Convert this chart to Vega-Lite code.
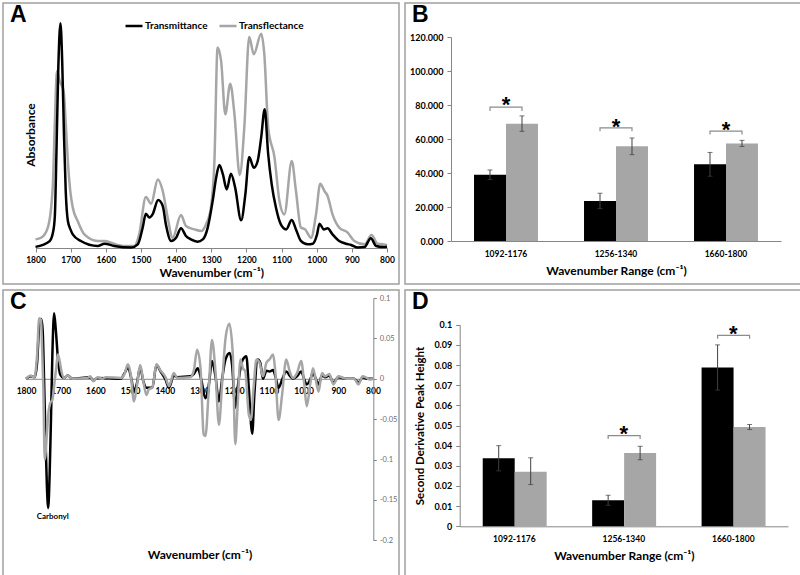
{
  "$schema": "https://vega.github.io/schema/vega-lite/v6.json",
  "padding": {"left": 2, "top": 2, "right": 0, "bottom": 0},
  "spacing": 4,
  "columns": 2,
  "config": {
    "view": {"stroke": "#a0a0a0", "strokeWidth": 1.5},
    "font": "Lato",
    "axis": {"domainColor": "#868686", "tickColor": "#868686", "labelColor": "#000000", "labelFont": "Lato", "labelFontWeight": "bold", "labelFontSize": 8.5, "titleFont": "Lato", "titleFontSize": 12, "titleFontWeight": "bold", "titleColor": "#000000", "grid": false, "labelOverlap": false},
    "legend": {"labelFont": "Lato", "labelFontWeight": "bold", "labelColor": "#000000"},
    "title": {"anchor": "start", "frame": "group", "font": "Liberation Sans", "fontSize": 23, "fontWeight": "bold", "baseline": "alphabetic", "offset": -24, "dx": 7, "color": "#000000"},
    "line": {"strokeWidth": 2.5, "interpolate": "monotone"}
  },
  "datasets": {
    "A": [
      {"wn": 1800, "v": 0.005, "s": "Transmittance"}, {"wn": 1760, "v": 0.03, "s": "Transmittance"}, {"wn": 1750, "v": 0.07, "s": "Transmittance"}, {"wn": 1745, "v": 0.14, "s": "Transmittance"}, {"wn": 1740, "v": 0.45, "s": "Transmittance"}, {"wn": 1735, "v": 0.8, "s": "Transmittance"}, {"wn": 1729, "v": 0.99, "s": "Transmittance"}, {"wn": 1724, "v": 0.82, "s": "Transmittance"}, {"wn": 1719, "v": 0.5, "s": "Transmittance"}, {"wn": 1714, "v": 0.25, "s": "Transmittance"}, {"wn": 1708, "v": 0.12, "s": "Transmittance"}, {"wn": 1700, "v": 0.08, "s": "Transmittance"}, {"wn": 1694, "v": 0.06, "s": "Transmittance"}, {"wn": 1671, "v": 0.031, "s": "Transmittance"}, {"wn": 1623, "v": 0.009, "s": "Transmittance"}, {"wn": 1604, "v": 0.019, "s": "Transmittance"}, {"wn": 1576, "v": 0.009, "s": "Transmittance"}, {"wn": 1528, "v": 0.002, "s": "Transmittance"}, {"wn": 1509, "v": 0.016, "s": "Transmittance"}, {"wn": 1495, "v": 0.09, "s": "Transmittance"}, {"wn": 1486, "v": 0.151, "s": "Transmittance"}, {"wn": 1476, "v": 0.134, "s": "Transmittance"}, {"wn": 1467, "v": 0.148, "s": "Transmittance"}, {"wn": 1451, "v": 0.211, "s": "Transmittance"}, {"wn": 1438, "v": 0.185, "s": "Transmittance"}, {"wn": 1429, "v": 0.104, "s": "Transmittance"}, {"wn": 1414, "v": 0.031, "s": "Transmittance"}, {"wn": 1400, "v": 0.045, "s": "Transmittance"}, {"wn": 1386, "v": 0.087, "s": "Transmittance"}, {"wn": 1372, "v": 0.053, "s": "Transmittance"}, {"wn": 1358, "v": 0.038, "s": "Transmittance"}, {"wn": 1339, "v": 0.028, "s": "Transmittance"}, {"wn": 1324, "v": 0.038, "s": "Transmittance"}, {"wn": 1310, "v": 0.09, "s": "Transmittance"}, {"wn": 1296, "v": 0.207, "s": "Transmittance"}, {"wn": 1286, "v": 0.31, "s": "Transmittance"}, {"wn": 1277, "v": 0.366, "s": "Transmittance"}, {"wn": 1267, "v": 0.325, "s": "Transmittance"}, {"wn": 1256, "v": 0.258, "s": "Transmittance"}, {"wn": 1244, "v": 0.327, "s": "Transmittance"}, {"wn": 1232, "v": 0.266, "s": "Transmittance"}, {"wn": 1215, "v": 0.122, "s": "Transmittance"}, {"wn": 1203, "v": 0.236, "s": "Transmittance"}, {"wn": 1192, "v": 0.401, "s": "Transmittance"}, {"wn": 1179, "v": 0.354, "s": "Transmittance"}, {"wn": 1168, "v": 0.383, "s": "Transmittance"}, {"wn": 1158, "v": 0.486, "s": "Transmittance"}, {"wn": 1148, "v": 0.611, "s": "Transmittance"}, {"wn": 1138, "v": 0.413, "s": "Transmittance"}, {"wn": 1128, "v": 0.28, "s": "Transmittance"}, {"wn": 1116, "v": 0.178, "s": "Transmittance"}, {"wn": 1102, "v": 0.104, "s": "Transmittance"}, {"wn": 1087, "v": 0.082, "s": "Transmittance"}, {"wn": 1071, "v": 0.123, "s": "Transmittance"}, {"wn": 1059, "v": 0.082, "s": "Transmittance"}, {"wn": 1045, "v": 0.031, "s": "Transmittance"}, {"wn": 1026, "v": 0.016, "s": "Transmittance"}, {"wn": 1011, "v": 0.019, "s": "Transmittance"}, {"wn": 999, "v": 0.06, "s": "Transmittance"}, {"wn": 992, "v": 0.107, "s": "Transmittance"}, {"wn": 980, "v": 0.082, "s": "Transmittance"}, {"wn": 969, "v": 0.087, "s": "Transmittance"}, {"wn": 955, "v": 0.06, "s": "Transmittance"}, {"wn": 936, "v": 0.031, "s": "Transmittance"}, {"wn": 917, "v": 0.019, "s": "Transmittance"}, {"wn": 902, "v": 0.013, "s": "Transmittance"}, {"wn": 883, "v": 0.002, "s": "Transmittance"}, {"wn": 864, "v": 0.004, "s": "Transmittance"}, {"wn": 846, "v": 0.043, "s": "Transmittance"}, {"wn": 831, "v": 0.009, "s": "Transmittance"}, {"wn": 808, "v": 0.004, "s": "Transmittance"}, {"wn": 800, "v": 0.005, "s": "Transmittance"},
      {"wn": 1800, "v": 0.038, "s": "Transflectance"}, {"wn": 1784, "v": 0.045, "s": "Transflectance"}, {"wn": 1765, "v": 0.09, "s": "Transflectance"}, {"wn": 1751, "v": 0.266, "s": "Transflectance"}, {"wn": 1745, "v": 0.55, "s": "Transflectance"}, {"wn": 1739, "v": 0.78, "s": "Transflectance"}, {"wn": 1732, "v": 0.74, "s": "Transflectance"}, {"wn": 1727, "v": 0.721, "s": "Transflectance"}, {"wn": 1720, "v": 0.692, "s": "Transflectance"}, {"wn": 1714, "v": 0.55, "s": "Transflectance"}, {"wn": 1708, "v": 0.383, "s": "Transflectance"}, {"wn": 1701, "v": 0.25, "s": "Transflectance"}, {"wn": 1694, "v": 0.178, "s": "Transflectance"}, {"wn": 1680, "v": 0.119, "s": "Transflectance"}, {"wn": 1661, "v": 0.06, "s": "Transflectance"}, {"wn": 1623, "v": 0.031, "s": "Transflectance"}, {"wn": 1602, "v": 0.031, "s": "Transflectance"}, {"wn": 1585, "v": 0.023, "s": "Transflectance"}, {"wn": 1547, "v": 0.009, "s": "Transflectance"}, {"wn": 1519, "v": 0.009, "s": "Transflectance"}, {"wn": 1505, "v": 0.06, "s": "Transflectance"}, {"wn": 1486, "v": 0.225, "s": "Transflectance"}, {"wn": 1471, "v": 0.195, "s": "Transflectance"}, {"wn": 1452, "v": 0.302, "s": "Transflectance"}, {"wn": 1438, "v": 0.251, "s": "Transflectance"}, {"wn": 1424, "v": 0.134, "s": "Transflectance"}, {"wn": 1410, "v": 0.045, "s": "Transflectance"}, {"wn": 1386, "v": 0.145, "s": "Transflectance"}, {"wn": 1372, "v": 0.097, "s": "Transflectance"}, {"wn": 1348, "v": 0.082, "s": "Transflectance"}, {"wn": 1329, "v": 0.075, "s": "Transflectance"}, {"wn": 1315, "v": 0.104, "s": "Transflectance"}, {"wn": 1301, "v": 0.178, "s": "Transflectance"}, {"wn": 1291, "v": 0.383, "s": "Transflectance"}, {"wn": 1282, "v": 0.883, "s": "Transflectance"}, {"wn": 1272, "v": 0.824, "s": "Transflectance"}, {"wn": 1260, "v": 0.589, "s": "Transflectance"}, {"wn": 1246, "v": 0.724, "s": "Transflectance"}, {"wn": 1234, "v": 0.589, "s": "Transflectance"}, {"wn": 1219, "v": 0.322, "s": "Transflectance"}, {"wn": 1206, "v": 0.53, "s": "Transflectance"}, {"wn": 1192, "v": 0.93, "s": "Transflectance"}, {"wn": 1179, "v": 0.853, "s": "Transflectance"}, {"wn": 1158, "v": 0.944, "s": "Transflectance"}, {"wn": 1149, "v": 0.853, "s": "Transflectance"}, {"wn": 1138, "v": 0.53, "s": "Transflectance"}, {"wn": 1120, "v": 0.398, "s": "Transflectance"}, {"wn": 1106, "v": 0.207, "s": "Transflectance"}, {"wn": 1092, "v": 0.148, "s": "Transflectance"}, {"wn": 1071, "v": 0.383, "s": "Transflectance"}, {"wn": 1059, "v": 0.251, "s": "Transflectance"}, {"wn": 1045, "v": 0.09, "s": "Transflectance"}, {"wn": 1033, "v": 0.082, "s": "Transflectance"}, {"wn": 1016, "v": 0.045, "s": "Transflectance"}, {"wn": 1002, "v": 0.148, "s": "Transflectance"}, {"wn": 990, "v": 0.283, "s": "Transflectance"}, {"wn": 978, "v": 0.251, "s": "Transflectance"}, {"wn": 969, "v": 0.229, "s": "Transflectance"}, {"wn": 955, "v": 0.148, "s": "Transflectance"}, {"wn": 936, "v": 0.09, "s": "Transflectance"}, {"wn": 912, "v": 0.068, "s": "Transflectance"}, {"wn": 893, "v": 0.031, "s": "Transflectance"}, {"wn": 864, "v": 0.016, "s": "Transflectance"}, {"wn": 844, "v": 0.057, "s": "Transflectance"}, {"wn": 827, "v": 0.019, "s": "Transflectance"}, {"wn": 808, "v": 0.016, "s": "Transflectance"}, {"wn": 800, "v": 0.012, "s": "Transflectance"}
    ],
    "C": [
      {"wn": 1800, "v": 0, "s": "Transmittance"}, {"wn": 1786, "v": 0.003, "s": "Transmittance"}, {"wn": 1775, "v": 0.002, "s": "Transmittance"}, {"wn": 1768, "v": 0.02, "s": "Transmittance"}, {"wn": 1762, "v": 0.065, "s": "Transmittance"}, {"wn": 1756, "v": 0.074, "s": "Transmittance"}, {"wn": 1752, "v": 0.06, "s": "Transmittance"}, {"wn": 1748, "v": 0.0, "s": "Transmittance"}, {"wn": 1744, "v": -0.07, "s": "Transmittance"}, {"wn": 1740, "v": -0.13, "s": "Transmittance"}, {"wn": 1736, "v": -0.16, "s": "Transmittance"}, {"wn": 1732, "v": -0.12, "s": "Transmittance"}, {"wn": 1728, "v": -0.05, "s": "Transmittance"}, {"wn": 1724, "v": 0.03, "s": "Transmittance"}, {"wn": 1719, "v": 0.081, "s": "Transmittance"}, {"wn": 1714, "v": 0.06, "s": "Transmittance"}, {"wn": 1708, "v": 0.025, "s": "Transmittance"}, {"wn": 1701, "v": 0.005, "s": "Transmittance"}, {"wn": 1690, "v": 0.001, "s": "Transmittance"}, {"wn": 1680, "v": 0.004, "s": "Transmittance"}, {"wn": 1666, "v": 0, "s": "Transmittance"}, {"wn": 1615, "v": 0.002, "s": "Transmittance"}, {"wn": 1606, "v": -0.002, "s": "Transmittance"}, {"wn": 1594, "v": 0.001, "s": "Transmittance"}, {"wn": 1527, "v": 0, "s": "Transmittance"}, {"wn": 1516, "v": 0.007, "s": "Transmittance"}, {"wn": 1506, "v": 0.014, "s": "Transmittance"}, {"wn": 1496, "v": -0.001, "s": "Transmittance"}, {"wn": 1489, "v": -0.016, "s": "Transmittance"}, {"wn": 1481, "v": -0.007, "s": "Transmittance"}, {"wn": 1471, "v": 0.014, "s": "Transmittance"}, {"wn": 1462, "v": -0.003, "s": "Transmittance"}, {"wn": 1453, "v": -0.011, "s": "Transmittance"}, {"wn": 1444, "v": -0.011, "s": "Transmittance"}, {"wn": 1436, "v": -0.011, "s": "Transmittance"}, {"wn": 1424, "v": 0.017, "s": "Transmittance"}, {"wn": 1412, "v": 0.009, "s": "Transmittance"}, {"wn": 1398, "v": -0.001, "s": "Transmittance"}, {"wn": 1388, "v": -0.011, "s": "Transmittance"}, {"wn": 1374, "v": 0.004, "s": "Transmittance"}, {"wn": 1364, "v": 0.002, "s": "Transmittance"}, {"wn": 1326, "v": 0.003, "s": "Transmittance"}, {"wn": 1316, "v": 0.006, "s": "Transmittance"}, {"wn": 1305, "v": 0.013, "s": "Transmittance"}, {"wn": 1295, "v": -0.001, "s": "Transmittance"}, {"wn": 1283, "v": -0.024, "s": "Transmittance"}, {"wn": 1273, "v": -0.007, "s": "Transmittance"}, {"wn": 1264, "v": 0.022, "s": "Transmittance"}, {"wn": 1254, "v": 0.003, "s": "Transmittance"}, {"wn": 1244, "v": -0.028, "s": "Transmittance"}, {"wn": 1235, "v": -0.001, "s": "Transmittance"}, {"wn": 1225, "v": 0.024, "s": "Transmittance"}, {"wn": 1213, "v": 0.032, "s": "Transmittance"}, {"wn": 1206, "v": 0.017, "s": "Transmittance"}, {"wn": 1197, "v": -0.036, "s": "Transmittance"}, {"wn": 1190, "v": -0.011, "s": "Transmittance"}, {"wn": 1182, "v": 0.013, "s": "Transmittance"}, {"wn": 1175, "v": 0.024, "s": "Transmittance"}, {"wn": 1165, "v": 0.028, "s": "Transmittance"}, {"wn": 1158, "v": -0.011, "s": "Transmittance"}, {"wn": 1148, "v": -0.068, "s": "Transmittance"}, {"wn": 1142, "v": -0.02, "s": "Transmittance"}, {"wn": 1132, "v": 0.024, "s": "Transmittance"}, {"wn": 1125, "v": 0.02, "s": "Transmittance"}, {"wn": 1117, "v": 0, "s": "Transmittance"}, {"wn": 1107, "v": 0.01, "s": "Transmittance"}, {"wn": 1098, "v": 0.009, "s": "Transmittance"}, {"wn": 1088, "v": 0.011, "s": "Transmittance"}, {"wn": 1082, "v": 0.004, "s": "Transmittance"}, {"wn": 1072, "v": -0.011, "s": "Transmittance"}, {"wn": 1062, "v": -0.001, "s": "Transmittance"}, {"wn": 1050, "v": 0.009, "s": "Transmittance"}, {"wn": 1040, "v": 0.004, "s": "Transmittance"}, {"wn": 1031, "v": 0, "s": "Transmittance"}, {"wn": 1019, "v": 0.003, "s": "Transmittance"}, {"wn": 1007, "v": 0.009, "s": "Transmittance"}, {"wn": 998, "v": -0.001, "s": "Transmittance"}, {"wn": 991, "v": -0.007, "s": "Transmittance"}, {"wn": 981, "v": -0.001, "s": "Transmittance"}, {"wn": 973, "v": 0.007, "s": "Transmittance"}, {"wn": 965, "v": 0, "s": "Transmittance"}, {"wn": 957, "v": -0.007, "s": "Transmittance"}, {"wn": 947, "v": 0.004, "s": "Transmittance"}, {"wn": 938, "v": 0.002, "s": "Transmittance"}, {"wn": 926, "v": 0.004, "s": "Transmittance"}, {"wn": 914, "v": -0.005, "s": "Transmittance"}, {"wn": 900, "v": 0.002, "s": "Transmittance"}, {"wn": 876, "v": 0, "s": "Transmittance"}, {"wn": 854, "v": 0, "s": "Transmittance"}, {"wn": 842, "v": -0.005, "s": "Transmittance"}, {"wn": 830, "v": 0.002, "s": "Transmittance"}, {"wn": 818, "v": 0, "s": "Transmittance"}, {"wn": 800, "v": 0, "s": "Transmittance"},
      {"wn": 1800, "v": 0, "s": "Transflectance"}, {"wn": 1786, "v": 0.004, "s": "Transflectance"}, {"wn": 1776, "v": 0.001, "s": "Transflectance"}, {"wn": 1768, "v": 0.03, "s": "Transflectance"}, {"wn": 1762, "v": 0.075, "s": "Transflectance"}, {"wn": 1757, "v": 0.073, "s": "Transflectance"}, {"wn": 1753, "v": 0.03, "s": "Transflectance"}, {"wn": 1750, "v": -0.012, "s": "Transflectance"}, {"wn": 1746, "v": -0.1, "s": "Transflectance"}, {"wn": 1740, "v": -0.07, "s": "Transflectance"}, {"wn": 1736, "v": -0.045, "s": "Transflectance"}, {"wn": 1730, "v": -0.03, "s": "Transflectance"}, {"wn": 1724, "v": -0.026, "s": "Transflectance"}, {"wn": 1718, "v": -0.005, "s": "Transflectance"}, {"wn": 1713, "v": 0.013, "s": "Transflectance"}, {"wn": 1708, "v": 0.03, "s": "Transflectance"}, {"wn": 1703, "v": 0.022, "s": "Transflectance"}, {"wn": 1698, "v": 0.01, "s": "Transflectance"}, {"wn": 1690, "v": 0.001, "s": "Transflectance"}, {"wn": 1680, "v": 0.004, "s": "Transflectance"}, {"wn": 1666, "v": 0, "s": "Transflectance"}, {"wn": 1623, "v": 0.001, "s": "Transflectance"}, {"wn": 1615, "v": 0.003, "s": "Transflectance"}, {"wn": 1606, "v": -0.003, "s": "Transflectance"}, {"wn": 1594, "v": 0.002, "s": "Transflectance"}, {"wn": 1580, "v": 0, "s": "Transflectance"}, {"wn": 1570, "v": 0.002, "s": "Transflectance"}, {"wn": 1527, "v": 0.001, "s": "Transflectance"}, {"wn": 1517, "v": 0.005, "s": "Transflectance"}, {"wn": 1506, "v": 0.018, "s": "Transflectance"}, {"wn": 1498, "v": 0.005, "s": "Transflectance"}, {"wn": 1489, "v": -0.028, "s": "Transflectance"}, {"wn": 1481, "v": -0.011, "s": "Transflectance"}, {"wn": 1471, "v": 0.017, "s": "Transflectance"}, {"wn": 1462, "v": -0.003, "s": "Transflectance"}, {"wn": 1453, "v": -0.02, "s": "Transflectance"}, {"wn": 1446, "v": -0.013, "s": "Transflectance"}, {"wn": 1436, "v": -0.011, "s": "Transflectance"}, {"wn": 1424, "v": 0.018, "s": "Transflectance"}, {"wn": 1412, "v": 0.01, "s": "Transflectance"}, {"wn": 1398, "v": 0.002, "s": "Transflectance"}, {"wn": 1388, "v": -0.009, "s": "Transflectance"}, {"wn": 1374, "v": 0.007, "s": "Transflectance"}, {"wn": 1364, "v": 0.001, "s": "Transflectance"}, {"wn": 1326, "v": 0.002, "s": "Transflectance"}, {"wn": 1316, "v": 0.011, "s": "Transflectance"}, {"wn": 1307, "v": 0.036, "s": "Transflectance"}, {"wn": 1297, "v": 0.013, "s": "Transflectance"}, {"wn": 1288, "v": -0.069, "s": "Transflectance"}, {"wn": 1283, "v": -0.071, "s": "Transflectance"}, {"wn": 1273, "v": -0.011, "s": "Transflectance"}, {"wn": 1264, "v": 0.048, "s": "Transflectance"}, {"wn": 1254, "v": 0.009, "s": "Transflectance"}, {"wn": 1244, "v": -0.057, "s": "Transflectance"}, {"wn": 1235, "v": -0.007, "s": "Transflectance"}, {"wn": 1225, "v": 0.05, "s": "Transflectance"}, {"wn": 1214, "v": 0.068, "s": "Transflectance"}, {"wn": 1204, "v": 0.03, "s": "Transflectance"}, {"wn": 1197, "v": -0.081, "s": "Transflectance"}, {"wn": 1190, "v": -0.032, "s": "Transflectance"}, {"wn": 1182, "v": 0.024, "s": "Transflectance"}, {"wn": 1175, "v": 0.013, "s": "Transflectance"}, {"wn": 1168, "v": 0.009, "s": "Transflectance"}, {"wn": 1158, "v": -0.044, "s": "Transflectance"}, {"wn": 1152, "v": -0.051, "s": "Transflectance"}, {"wn": 1144, "v": -0.011, "s": "Transflectance"}, {"wn": 1136, "v": 0.024, "s": "Transflectance"}, {"wn": 1127, "v": 0.02, "s": "Transflectance"}, {"wn": 1117, "v": 0.003, "s": "Transflectance"}, {"wn": 1107, "v": 0.02, "s": "Transflectance"}, {"wn": 1098, "v": 0.024, "s": "Transflectance"}, {"wn": 1088, "v": 0.03, "s": "Transflectance"}, {"wn": 1082, "v": 0.011, "s": "Transflectance"}, {"wn": 1072, "v": -0.051, "s": "Transflectance"}, {"wn": 1062, "v": -0.02, "s": "Transflectance"}, {"wn": 1050, "v": 0.024, "s": "Transflectance"}, {"wn": 1040, "v": 0.009, "s": "Transflectance"}, {"wn": 1031, "v": 0.001, "s": "Transflectance"}, {"wn": 1019, "v": 0.007, "s": "Transflectance"}, {"wn": 1007, "v": 0.022, "s": "Transflectance"}, {"wn": 998, "v": -0.007, "s": "Transflectance"}, {"wn": 991, "v": -0.034, "s": "Transflectance"}, {"wn": 981, "v": -0.007, "s": "Transflectance"}, {"wn": 973, "v": 0.013, "s": "Transflectance"}, {"wn": 965, "v": -0.001, "s": "Transflectance"}, {"wn": 957, "v": -0.016, "s": "Transflectance"}, {"wn": 947, "v": 0.007, "s": "Transflectance"}, {"wn": 938, "v": 0.003, "s": "Transflectance"}, {"wn": 926, "v": 0.006, "s": "Transflectance"}, {"wn": 914, "v": -0.007, "s": "Transflectance"}, {"wn": 900, "v": 0.003, "s": "Transflectance"}, {"wn": 876, "v": 0, "s": "Transflectance"}, {"wn": 854, "v": 0, "s": "Transflectance"}, {"wn": 842, "v": -0.007, "s": "Transflectance"}, {"wn": 830, "v": 0.003, "s": "Transflectance"}, {"wn": 818, "v": 0.001, "s": "Transflectance"}, {"wn": 809, "v": -0.001, "s": "Transflectance"}, {"wn": 800, "v": 0, "s": "Transflectance"}
    ],
    "Clab": [{"wn": 1723, "v": -0.171, "t": "Carbonyl"}],
    "B": [
      {"r": "1092-1176", "s": "Transmittance", "v": 39.0, "lo": 36.2, "hi": 41.8},
      {"r": "1092-1176", "s": "Transflectance", "v": 69.0, "lo": 64.5, "hi": 73.6},
      {"r": "1256-1340", "s": "Transmittance", "v": 23.6, "lo": 19.1, "hi": 28.1},
      {"r": "1256-1340", "s": "Transflectance", "v": 55.7, "lo": 50.8, "hi": 60.6},
      {"r": "1660-1800", "s": "Transmittance", "v": 45.1, "lo": 38.1, "hi": 52.1},
      {"r": "1660-1800", "s": "Transflectance", "v": 57.4, "lo": 55.6, "hi": 59.2}
    ],
    "Bbr": [
      {"r": "1092-1176", "s": "Transmittance", "v": 76.4, "o": 0}, {"r": "1092-1176", "s": "Transmittance", "v": 78.7, "o": 1}, {"r": "1092-1176", "s": "Transflectance", "v": 78.7, "o": 2}, {"r": "1092-1176", "s": "Transflectance", "v": 76.4, "o": 3},
      {"r": "1256-1340", "s": "Transmittance", "v": 64.6, "o": 0}, {"r": "1256-1340", "s": "Transmittance", "v": 66.6, "o": 1}, {"r": "1256-1340", "s": "Transflectance", "v": 66.6, "o": 2}, {"r": "1256-1340", "s": "Transflectance", "v": 64.6, "o": 3},
      {"r": "1660-1800", "s": "Transmittance", "v": 62.6, "o": 0}, {"r": "1660-1800", "s": "Transmittance", "v": 64.6, "o": 1}, {"r": "1660-1800", "s": "Transflectance", "v": 64.6, "o": 2}, {"r": "1660-1800", "s": "Transflectance", "v": 62.6, "o": 3}
    ],
    "Bst": [{"r": "1092-1176", "v": 82.2}, {"r": "1256-1340", "v": 69.5}, {"r": "1660-1800", "v": 67.5}],
    "D": [
      {"r": "1092-1176", "s": "Transmittance", "v": 0.0337, "lo": 0.0275, "hi": 0.04},
      {"r": "1092-1176", "s": "Transflectance", "v": 0.027, "lo": 0.0207, "hi": 0.034},
      {"r": "1256-1340", "s": "Transmittance", "v": 0.0129, "lo": 0.0104, "hi": 0.0154},
      {"r": "1256-1340", "s": "Transflectance", "v": 0.0364, "lo": 0.033, "hi": 0.0397},
      {"r": "1660-1800", "s": "Transmittance", "v": 0.0788, "lo": 0.0676, "hi": 0.09},
      {"r": "1660-1800", "s": "Transflectance", "v": 0.0493, "lo": 0.048, "hi": 0.0505}
    ],
    "Dbr": [
      {"r": "1256-1340", "s": "Transmittance", "v": 0.0433, "o": 0}, {"r": "1256-1340", "s": "Transmittance", "v": 0.045, "o": 1}, {"r": "1256-1340", "s": "Transflectance", "v": 0.045, "o": 2}, {"r": "1256-1340", "s": "Transflectance", "v": 0.0433, "o": 3},
      {"r": "1660-1800", "s": "Transmittance", "v": 0.093, "o": 0}, {"r": "1660-1800", "s": "Transmittance", "v": 0.0947, "o": 1}, {"r": "1660-1800", "s": "Transflectance", "v": 0.0947, "o": 2}, {"r": "1660-1800", "s": "Transflectance", "v": 0.093, "o": 3}
    ],
    "Dst": [{"r": "1256-1340", "v": 0.0476}, {"r": "1660-1800", "v": 0.0975}]
  },
  "concat": [
    {
      "width": 396, "height": 281,
      "title": {"text": "A"},
      "data": {"name": "A"},
      "layer": [
        {
          "transform": [{"filter": "datum.s == 'Transflectance'"}],
          "mark": {"type": "line"},
          "encoding": {
            "x": {"field": "wn", "type": "quantitative", "scale": {"domain": [1800, 800], "range": [32.5, 384], "nice": false, "zero": false},
              "axis": {"values": [1800, 1700, 1600, 1500, 1400, 1300, 1200, 1100, 1000, 900, 800], "tickCount": 30, "format": "d", "labelOverlap": false, "labelFlush": false, "offset": -36, "tickSize": 4, "labelPadding": 3, "labelFontSize": 8.5, "title": "Wavenumber (cm⁻¹)", "titlePadding": 4}},
            "y": {"field": "v", "type": "quantitative", "scale": {"domain": [0, 1], "range": [245, 18], "nice": false},
              "axis": {"title": "Absorbance", "labels": false, "ticks": false, "domain": false, "offset": -34, "titlePadding": 0}},
            "color": {"field": "s", "type": "nominal", "scale": {"domain": ["Transmittance", "Transflectance"], "range": ["#000000", "#a6a6a6"]},
              "legend": {"title": null, "orient": "none", "legendX": 121, "legendY": 13, "direction": "horizontal", "symbolType": "stroke", "symbolSize": 289, "symbolStrokeWidth": 3, "labelFontSize": 10, "columnPadding": 6, "labelOffset": 1}}
          }
        },
        {
          "transform": [{"filter": "datum.s == 'Transmittance'"}],
          "mark": {"type": "line"},
          "encoding": {
            "x": {"field": "wn", "type": "quantitative"},
            "y": {"field": "v", "type": "quantitative"},
            "color": {"field": "s", "type": "nominal"}
          }
        }
      ]
    },
    {
      "width": 396, "height": 281,
      "title": {"text": "B"},
      "layer": [
        {
          "data": {"name": "B"},
          "mark": {"type": "bar"},
          "encoding": {
            "x": {"field": "r", "type": "nominal", "scale": {"range": [46, 376], "paddingInner": 0, "paddingOuter": 0},
              "axis": {"offset": -43, "ticks": false, "labelPadding": 8, "labelAngle": 0, "title": "Wavenumber Range (cm⁻¹)", "titlePadding": 8}},
            "xOffset": {"field": "s", "type": "nominal", "scale": {"domain": ["Transmittance", "Transflectance"], "paddingInner": 0, "paddingOuter": 0.72}},
            "y": {"field": "v", "type": "quantitative", "scale": {"domain": [0, 120], "range": [238, 34], "nice": false},
              "axis": {"values": [0, 20, 40, 60, 80, 100, 120], "tickCount": 30, "format": ".3f", "labelOverlap": false, "offset": -46, "tickSize": 4, "labelPadding": 4, "labelFontSize": 9, "title": null}},
            "color": {"field": "s", "type": "nominal", "scale": {"domain": ["Transmittance", "Transflectance"], "range": ["#000000", "#7f7f7f"]},
              "legend": {"title": null, "orient": "none", "legendX": 124, "legendY": 10, "direction": "horizontal", "symbolType": "square", "symbolSize": 36, "symbolStrokeWidth": 0, "labelFontSize": 9.5, "columnPadding": 12, "labelOffset": 3}}
          }
        },
        {
          "data": {"name": "B"},
          "mark": {"type": "rule", "color": "#404040", "strokeWidth": 1},
          "encoding": {
            "x": {"field": "r", "type": "nominal"},
            "xOffset": {"field": "s", "type": "nominal"},
            "y": {"field": "lo", "type": "quantitative"},
            "y2": {"field": "hi"}
          }
        },
        {
          "data": {"name": "B"},
          "mark": {"type": "tick", "color": "#404040", "size": 5, "thickness": 1},
          "encoding": {
            "x": {"field": "r", "type": "nominal"},
            "xOffset": {"field": "s", "type": "nominal"},
            "y": {"field": "hi", "type": "quantitative"}
          }
        },
        {
          "data": {"name": "B"},
          "mark": {"type": "tick", "color": "#404040", "size": 5, "thickness": 1},
          "encoding": {
            "x": {"field": "r", "type": "nominal"},
            "xOffset": {"field": "s", "type": "nominal"},
            "y": {"field": "lo", "type": "quantitative"}
          }
        },
        {
          "data": {"name": "Bbr"},
          "mark": {"type": "line", "color": "#8c8c8c", "strokeWidth": 1.2, "interpolate": "linear"},
          "encoding": {
            "x": {"field": "r", "type": "nominal"},
            "xOffset": {"field": "s", "type": "nominal"},
            "y": {"field": "v", "type": "quantitative"},
            "detail": {"field": "r"},
            "order": {"field": "o"}
          }
        },
        {
          "data": {"name": "Bst"},
          "mark": {"type": "text", "text": "*", "font": "Liberation Sans", "fontSize": 22, "fontWeight": "bold", "baseline": "middle", "dy": 4},
          "encoding": {
            "x": {"field": "r", "type": "nominal"},
            "y": {"field": "v", "type": "quantitative"}
          }
        }
      ]
    },
    {
      "width": 396, "height": 286,
      "title": {"text": "C"},
      "layer": [
        {
          "data": {"name": "C"},
          "transform": [{"filter": "datum.s == 'Transmittance'"}],
          "mark": {"type": "line"},
          "encoding": {
            "x": {"field": "wn", "type": "quantitative", "scale": {"domain": [1800, 800], "range": [23, 370], "nice": false, "zero": false},
              "axis": {"values": [1800, 1700, 1600, 1500, 1400, 1300, 1200, 1100, 1000, 900, 800], "tickCount": 30, "format": "d", "labelOverlap": false, "labelFlush": false, "offset": -197.2, "ticks": false, "labelPadding": 8, "labelFontSize": 8.5, "title": "Wavenumber (cm⁻¹)", "titleY": 176, "titleBaseline": "middle"}},
            "y": {"field": "v", "type": "quantitative", "scale": {"domain": [-0.2, 0.1], "range": [250.3, 8], "nice": false, "zero": false},
              "axis": {"orient": "right", "offset": -25.7, "values": [-0.2, -0.15, -0.1, -0.05, 0, 0.05, 0.1], "tickCount": 30, "labelExpr": "'' + round(datum.value * 100) / 100", "labelOverlap": false, "labelFontWeight": "normal", "labelColor": "#6e6e6e", "labelFontSize": 7.5, "tickSize": 3, "labelPadding": 3, "title": null}},
            "color": {"field": "s", "type": "nominal", "scale": {"domain": ["Transmittance", "Transflectance"], "range": ["#000000", "#a6a6a6"]},
              "legend": {"title": null, "orient": "none", "legendX": 123, "legendY": 14, "direction": "horizontal", "symbolType": "stroke", "symbolSize": 289, "symbolStrokeWidth": 3, "labelFontSize": 10, "columnPadding": 6, "labelOffset": 1}}
          }
        },
        {
          "data": {"name": "C"},
          "transform": [{"filter": "datum.s == 'Transflectance'"}],
          "mark": {"type": "line"},
          "encoding": {
            "x": {"field": "wn", "type": "quantitative"},
            "y": {"field": "v", "type": "quantitative"},
            "color": {"field": "s", "type": "nominal"}
          }
        },
        {
          "data": {"name": "Clab"},
          "mark": {"type": "text", "fontSize": 8, "fontWeight": "bold", "baseline": "middle", "align": "center"},
          "encoding": {
            "x": {"field": "wn", "type": "quantitative"},
            "y": {"field": "v", "type": "quantitative"},
            "text": {"field": "t"}
          }
        }
      ]
    },
    {
      "width": 396, "height": 286,
      "title": {"text": "D"},
      "layer": [
        {
          "data": {"name": "D"},
          "mark": {"type": "bar"},
          "encoding": {
            "x": {"field": "r", "type": "nominal", "scale": {"range": [54.7, 383], "paddingInner": 0, "paddingOuter": 0},
              "axis": {"offset": -49.7, "ticks": false, "labelPadding": 8, "labelAngle": 0, "title": "Wavenumber Range (cm⁻¹)", "titlePadding": 8}},
            "xOffset": {"field": "s", "type": "nominal", "scale": {"domain": ["Transmittance", "Transflectance"], "paddingInner": 0, "paddingOuter": 0.737}},
            "y": {"field": "v", "type": "quantitative", "scale": {"domain": [0, 0.1], "range": [236.3, 34.7], "nice": false},
              "axis": {"values": [0, 0.01, 0.02, 0.03, 0.04, 0.05, 0.06, 0.07, 0.08, 0.09, 0.1], "tickCount": 30, "labelExpr": "'' + round(datum.value * 100) / 100", "labelOverlap": false, "offset": -54.7, "tickSize": 4, "labelPadding": 4, "labelFontSize": 9, "title": "Second Derivative Peak Height", "titleFontSize": 11.5, "titlePadding": 8}},
            "color": {"field": "s", "type": "nominal", "scale": {"domain": ["Transmittance", "Transflectance"], "range": ["#000000", "#7f7f7f"]},
              "legend": {"title": null, "orient": "none", "legendX": 124, "legendY": 10, "direction": "horizontal", "symbolType": "square", "symbolSize": 36, "symbolStrokeWidth": 0, "labelFontSize": 9.5, "columnPadding": 12, "labelOffset": 3}}
          }
        },
        {
          "data": {"name": "D"},
          "mark": {"type": "rule", "color": "#404040", "strokeWidth": 1},
          "encoding": {
            "x": {"field": "r", "type": "nominal"},
            "xOffset": {"field": "s", "type": "nominal"},
            "y": {"field": "lo", "type": "quantitative"},
            "y2": {"field": "hi"}
          }
        },
        {
          "data": {"name": "D"},
          "mark": {"type": "tick", "color": "#404040", "size": 5, "thickness": 1},
          "encoding": {
            "x": {"field": "r", "type": "nominal"},
            "xOffset": {"field": "s", "type": "nominal"},
            "y": {"field": "hi", "type": "quantitative"}
          }
        },
        {
          "data": {"name": "D"},
          "mark": {"type": "tick", "color": "#404040", "size": 5, "thickness": 1},
          "encoding": {
            "x": {"field": "r", "type": "nominal"},
            "xOffset": {"field": "s", "type": "nominal"},
            "y": {"field": "lo", "type": "quantitative"}
          }
        },
        {
          "data": {"name": "Dbr"},
          "mark": {"type": "line", "color": "#8c8c8c", "strokeWidth": 1.2, "interpolate": "linear"},
          "encoding": {
            "x": {"field": "r", "type": "nominal"},
            "xOffset": {"field": "s", "type": "nominal"},
            "y": {"field": "v", "type": "quantitative"},
            "detail": {"field": "r"},
            "order": {"field": "o"}
          }
        },
        {
          "data": {"name": "Dst"},
          "mark": {"type": "text", "text": "*", "font": "Liberation Sans", "fontSize": 22, "fontWeight": "bold", "baseline": "middle", "dy": 4},
          "encoding": {
            "x": {"field": "r", "type": "nominal"},
            "y": {"field": "v", "type": "quantitative"}
          }
        }
      ]
    }
  ]
}
